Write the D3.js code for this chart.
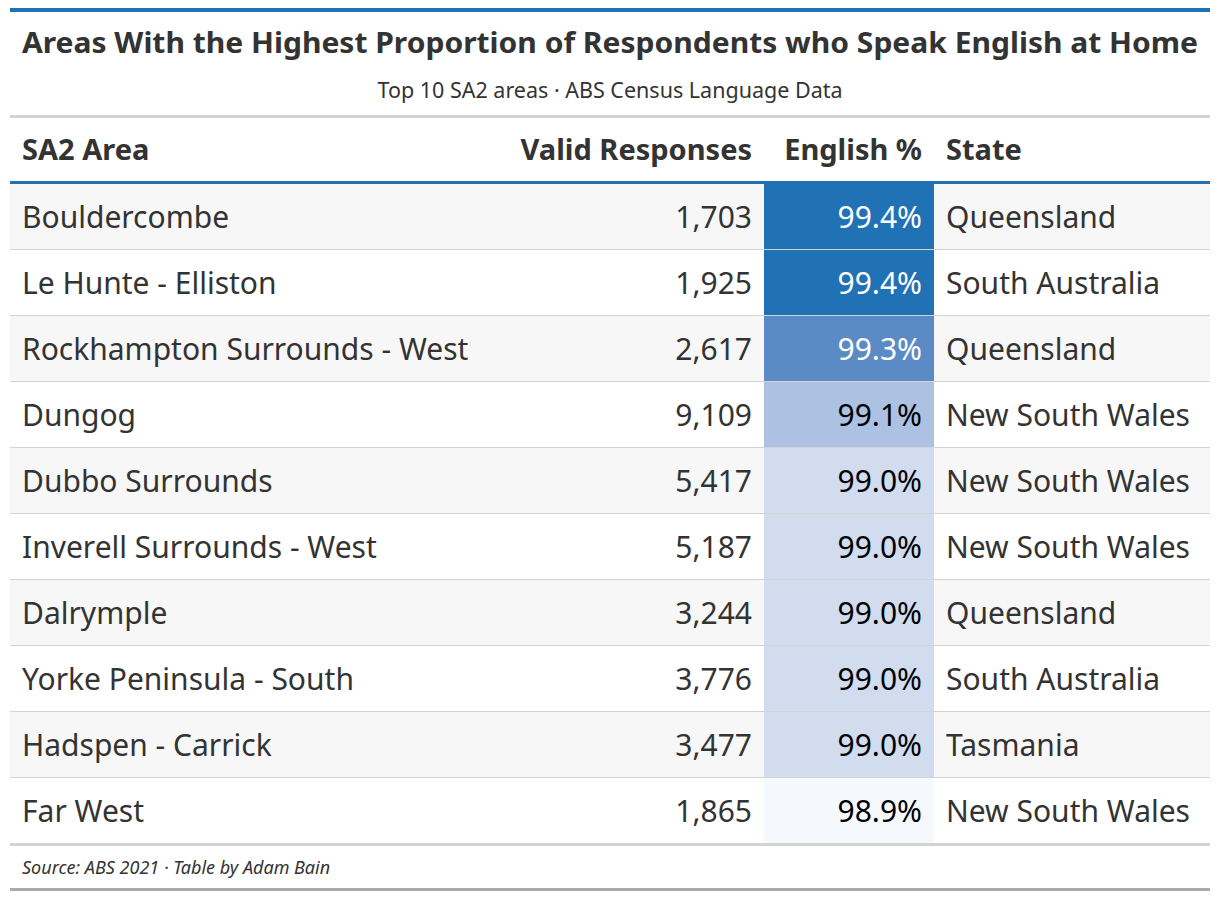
<!DOCTYPE html>
<html><head><meta charset="utf-8">
<script src="https://cdn.jsdelivr.net/npm/d3@7"></script>
<style>body{margin:0;background:#fff}</style>
</head><body><div id="chart"></div>
<script>
const areas = ['Bouldercombe','Le Hunte - Elliston','Rockhampton Surrounds - West','Dungog','Dubbo Surrounds','Inverell Surrounds - West','Dalrymple','Yorke Peninsula - South','Hadspen - Carrick','Far West'];
const responses = [1703,1925,2617,9109,5417,5187,3244,3776,3477,1865];
const englishPct = [99.4,99.4,99.3,99.1,99.0,99.0,99.0,99.0,99.0,98.9];
const states = ['Queensland','South Australia','Queensland','New South Wales','New South Wales','New South Wales','Queensland','South Australia','Tasmania','New South Wales'];
const headers = ['SA2 Area','Valid Responses','English %','State'];

const W = 1218, H = 900, L = 10, R = 1210;
const font = "'Noto Sans', 'Open Sans', sans-serif";
const ink = '#333';
const svg = d3.select('#chart').append('svg').attr('width', W).attr('height', H)
  .style('font-family', font);

// title block
svg.append('rect').attr('x', L).attr('y', 8).attr('width', R - L).attr('height', 4).attr('fill', '#2171b5');
svg.append('text').attr('x', 22).attr('y', 53)
  .attr('font-size', 29).attr('font-weight', 700).attr('fill', ink)
  .attr('textLength', 1176).attr('lengthAdjust', 'spacingAndGlyphs')
  .text('Areas With the Highest Proportion of Respondents who Speak English at Home');
svg.append('text').attr('x', W / 2 + 1).attr('y', 98).attr('text-anchor', 'middle')
  .attr('font-size', 21.5).attr('fill', ink).text('Top 10 SA2 areas · ABS Census Language Data');
svg.append('rect').attr('x', L).attr('y', 115).attr('width', R - L).attr('height', 3).attr('fill', '#d3d3d3');

// header
const hx = [22, 752, 922, 946], anchors = ['start','end','end','start'];
svg.append('g').selectAll('text').data(headers).join('text')
  .attr('x', (d, i) => hx[i]).attr('y', 160).attr('text-anchor', (d, i) => anchors[i])
  .attr('font-size', 29).attr('font-weight', 700).attr('fill', ink).text(d => d);

// rows
const y = d3.scaleBand().domain(d3.range(areas.length)).range([184, 844]);
const color = d3.scaleLinear().domain([98.9, 99.0, 99.1, 99.3, 99.4])
  .range(['#f5f9fe', '#d1dcef', '#adc2e3', '#5b8bc4', '#2171b5']);
const fmt = d3.format(',');

const rows = svg.append('g').selectAll('g').data(d3.range(areas.length)).join('g')
  .attr('transform', i => `translate(0,${y(i)})`);
rows.append('rect').attr('x', L).attr('width', R - L).attr('height', y.bandwidth())
  .attr('fill', i => i % 2 === 0 ? '#f7f7f7' : '#fff');
rows.append('rect').attr('x', 764).attr('width', 170).attr('height', y.bandwidth())
  .attr('fill', i => color(englishPct[i]));
rows.append('rect').attr('x', L).attr('y', y.bandwidth() - 1).attr('width', R - L).attr('height', 2)
  .attr('fill', '#d3d3d3');
const ty = y.bandwidth() / 2 + 11;
const fs = 30;
rows.append('text').attr('x', 22).attr('y', ty).attr('font-size', fs).attr('fill', ink).text(i => areas[i]);
rows.append('text').attr('x', 752).attr('y', ty).attr('text-anchor', 'end').attr('font-size', fs).attr('fill', ink)
  .text(i => fmt(responses[i]));
rows.append('text').attr('x', 922).attr('y', ty).attr('text-anchor', 'end').attr('font-size', fs)
  .attr('fill', i => englishPct[i] >= 99.3 ? '#fff' : '#000').text(i => englishPct[i].toFixed(1) + '%');
rows.append('text').attr('x', 946).attr('y', ty).attr('font-size', fs).attr('fill', ink).text(i => states[i]);

svg.append('rect').attr('x', L).attr('y', 181).attr('width', R - L).attr('height', 3).attr('fill', '#2171b5');
svg.append('rect').attr('x', L).attr('y', 843).attr('width', R - L).attr('height', 3).attr('fill', '#d3d3d3');

// footer
svg.append('text').attr('x', 22).attr('y', 874).attr('font-size', 18).attr('font-style', 'italic')
  .attr('fill', ink).text('Source: ABS 2021 · Table by Adam Bain');
svg.append('rect').attr('x', L).attr('y', 888).attr('width', R - L).attr('height', 3).attr('fill', '#aaa');
</script></body></html>
